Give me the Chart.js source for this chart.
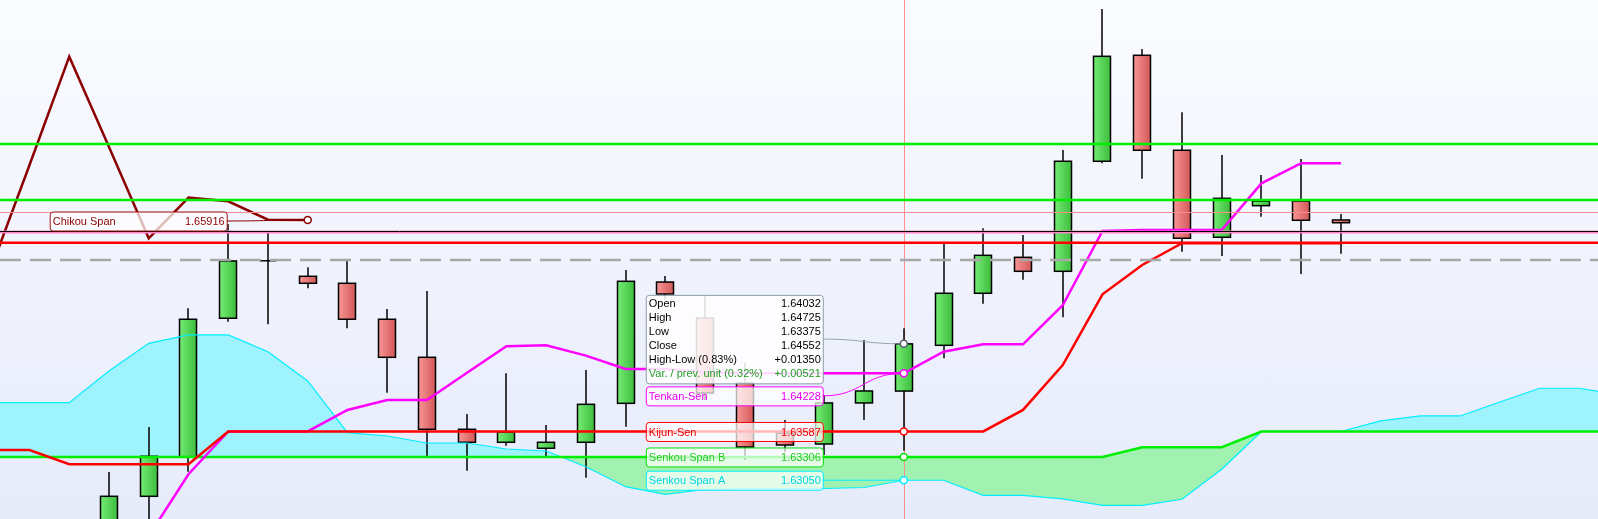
<!DOCTYPE html>
<html>
<head>
<meta charset="utf-8">
<script src="https://cdn.jsdelivr.net/npm/chart.js@4.4.1/dist/chart.umd.min.js"></script>
<style>
    html, body { margin: 0; padding: 0; background: #ffffff; }
    #wrap { width: 1598px; height: 519px; }
    canvas { display: block; background: linear-gradient(to bottom, #fbfcff 0%, #e6ebfb 100%); }
</style>
</head>
<body>
<div id="wrap"><canvas id="ichimoku" width="1598" height="519"></canvas></div>
<script>
// Candles, index 0..31
var opens  = [1.62450, 1.62873, 1.63309, 1.64834, 1.65468, 1.65296, 1.65219, 1.64823, 1.64404, 1.63611,
              1.63468, 1.63402, 1.63468, 1.63897, 1.65233, 1.64837, 1.64121, 1.63570, 1.63449, 1.63901,
              1.64032, 1.64536, 1.65109, 1.65505, 1.65351, 1.66563, 1.67730, 1.66684, 1.65726, 1.66074,
              1.66125, 1.65916];
var highs  = [1.63141, 1.63636, 1.64944, 1.65872, 1.65787, 1.65395, 1.65465, 1.64936, 1.65134, 1.63780,
              1.64228, 1.63659, 1.64264, 1.65366, 1.65299, 1.65090, 1.64341, 1.63714, 1.63989, 1.64595,
              1.64725, 1.65660, 1.65825, 1.65751, 1.66687, 1.68240, 1.67799, 1.67102, 1.66632, 1.66412,
              1.66588, 1.65982];
var lows   = [1.62170, 1.62447, 1.63144, 1.64796, 1.64768, 1.65164, 1.64723, 1.64014, 1.63309, 1.63155,
              1.63431, 1.63309, 1.63078, 1.63640, 1.65035, 1.63934, 1.63273, 1.63361, 1.63328, 1.63714,
              1.63375, 1.64393, 1.64994, 1.65259, 1.64845, 1.66541, 1.66371, 1.65567, 1.65520, 1.65953,
              1.65321, 1.65545];
var closes = [1.62873, 1.63314, 1.64823, 1.65465, 1.65468, 1.65219, 1.64823, 1.64404, 1.63611, 1.63468,
              1.63581, 1.63468, 1.63886, 1.65241, 1.65101, 1.64011, 1.63416, 1.63438, 1.63901, 1.64033,
              1.64552, 1.65109, 1.65527, 1.65351, 1.66563, 1.67719, 1.66684, 1.65715, 1.66155, 1.66125,
              1.65913, 1.65886];

// Ichimoku lines (first index of each series given separately)
var kijunStart = -3;
var kijun = [1.63383, 1.63383, 1.63226, 1.63226, 1.63226, 1.63226,
             1.63587, 1.63587, 1.63587, 1.63587, 1.63587, 1.63587, 1.63587, 1.63587, 1.63587, 1.63587,
             1.63587, 1.63587, 1.63587, 1.63587, 1.63587, 1.63587, 1.63587, 1.63587, 1.63587, 1.63587,
             1.63824, 1.64319, 1.65098, 1.65421, 1.65660, 1.65660, 1.65660, 1.65660, 1.65660];
var tenkanStart = 1;
var tenkan = [1.62436, 1.63116, 1.63587, 1.63587, 1.63587, 1.63824, 1.63934, 1.63934, 1.64231, 1.64525,
              1.64536, 1.64422, 1.64275, 1.64275, 1.64242, 1.64228, 1.64228, 1.64228, 1.64228, 1.64228,
              1.64466, 1.64547, 1.64547, 1.64977, 1.65795, 1.65806, 1.65806, 1.65806, 1.66320, 1.66541,
              1.66541];
var chikouStart = -3;
var chikou = [1.65344, 1.66522, 1.67715, 1.66720, 1.65715, 1.66162, 1.66122, 1.65920, 1.65916];
var senkouStart = -3;
var senkouB = [1.63306, 1.63306, 1.63306, 1.63306, 1.63306, 1.63306, 1.63306, 1.63306, 1.63306, 1.63306,
               1.63306, 1.63306, 1.63306, 1.63306, 1.63306, 1.63306, 1.63306, 1.63306, 1.63306, 1.63306,
               1.63306, 1.63306, 1.63306, 1.63306, 1.63306, 1.63306, 1.63306, 1.63306, 1.63306,
               1.63413, 1.63413, 1.63413,
               1.63587, 1.63587, 1.63587, 1.63587, 1.63587, 1.63587, 1.63587, 1.63587, 1.63587, 1.63587];
var senkouA = [1.63904, 1.63904, 1.63904, 1.64253, 1.64558, 1.64650, 1.64650, 1.64466, 1.64143, 1.63574,
               1.63537, 1.63460, 1.63460, 1.63394, 1.63372, 1.63199, 1.62979, 1.62895, 1.62948, 1.62954,
               1.62954, 1.62959, 1.62970, 1.63050, 1.63050, 1.62884, 1.62884, 1.62844, 1.62774, 1.62774,
               1.62840, 1.63171, 1.63587, 1.63587, 1.63587, 1.63703, 1.63758, 1.63758, 1.63912, 1.64063,
               1.64063, 1.63989];

// Horizontal price levels across the whole chart
var levelPrices = [1.66753, 1.66136, 1.66001, 1.65784, 1.65798, 1.65666, 1.65476];

// Crosshair / tooltip
var crossIndex = 20;
var tipLabels = ['Open', 'High', 'Low', 'Close', 'High-Low (0.83%)', 'Var. / prev. unit (0.32%)'];
var tipValues = ['1.64032', '1.64725', '1.63375', '1.64552', '+0.01350', '+0.00521'];

var X_MIN = -2.743, X_MAX = 37.469;
var Y_MIN = 1.62623, Y_MAX = 1.68339;

var FONT = '11px "Liberation Sans", Arial, sans-serif';
var levelStyles = [
    { color: '#00ee00', width: 2.5 },
    { color: '#00ee00', width: 2.5 },
    { color: '#ff8c8c', width: 1 },
    { color: '#ff86c6', width: 3 },
    { color: '#000000', width: 1 },
    { color: '#ff0000', width: 2.5 },
    { color: '#a8a8a8', width: 2.5, dash: [21, 9] }
];

function pts(start, values) {
    return values.map(function (v, k) { return { x: start + k, y: v }; });
}

function roundRect(ctx, x, y, w, h, r) {
    ctx.beginPath();
    ctx.moveTo(x + r, y);
    ctx.lineTo(x + w - r, y);
    ctx.quadraticCurveTo(x + w, y, x + w, y + r);
    ctx.lineTo(x + w, y + h - r);
    ctx.quadraticCurveTo(x + w, y + h, x + w - r, y + h);
    ctx.lineTo(x + r, y + h);
    ctx.quadraticCurveTo(x, y + h, x, y + h - r);
    ctx.lineTo(x, y + r);
    ctx.quadraticCurveTo(x, y, x + r, y);
    ctx.closePath();
}

function connector(ctx, x1, y1, x2, y2, color) {
    ctx.strokeStyle = color;
    ctx.lineWidth = 1;
    ctx.beginPath();
    ctx.moveTo(x1, y1);
    var mx = (x1 + x2) / 2;
    ctx.bezierCurveTo(mx, y1, mx, y2, x2, y2);
    ctx.stroke();
}

function dot(ctx, x, y, color) {
    ctx.beginPath();
    ctx.arc(x, y, 3.5, 0, Math.PI * 2);
    ctx.fillStyle = '#ffffff';
    ctx.fill();
    ctx.lineWidth = 1.5;
    ctx.strokeStyle = color;
    ctx.stroke();
}

function drawLabel(ctx, x, y, w, h, name, value, border, text) {
    roundRect(ctx, x + 0.5, y + 0.5, w, h, 3);
    ctx.fillStyle = 'rgba(255,255,255,0.72)';
    ctx.fill();
    ctx.strokeStyle = border;
    ctx.lineWidth = 1;
    ctx.stroke();
    ctx.fillStyle = text;
    ctx.textAlign = 'left';
    ctx.fillText(name, x + 3, y + h / 2 + 1);
    ctx.textAlign = 'right';
    ctx.fillText(value, x + w - 2, y + h / 2 + 1);
}

// crosshair + candles, drawn over the cloud fill but under the lines
var candlePlugin = {
    id: 'candles',
    beforeDatasetsDraw: function (chart) {
        var ctx = chart.ctx, xs = chart.scales.x, ys = chart.scales.y, a = chart.chartArea;
        ctx.save();
        ctx.beginPath();
        ctx.rect(a.left, a.top, a.right - a.left, a.bottom - a.top);
        ctx.clip();

        var cx = Math.round(xs.getPixelForValue(crossIndex)) + 0.5;
        ctx.strokeStyle = '#ff8f8f';
        ctx.lineWidth = 1;
        ctx.beginPath();
        ctx.moveTo(cx, a.top);
        ctx.lineTo(cx, a.bottom);
        ctx.stroke();

        var step = xs.getPixelForValue(1) - xs.getPixelForValue(0);
        var bw = Math.round(step * 0.43);
        for (var i = 0; i < opens.length; i++) {
            var xc = Math.round(xs.getPixelForValue(i));
            var yo = ys.getPixelForValue(opens[i]);
            var yc = ys.getPixelForValue(closes[i]);
            var yh = ys.getPixelForValue(highs[i]);
            var yl = ys.getPixelForValue(lows[i]);
            var up = closes[i] >= opens[i];

            ctx.strokeStyle = '#000000';
            ctx.lineWidth = 1.5;
            ctx.beginPath();
            ctx.moveTo(xc, yh);
            ctx.lineTo(xc, yl);
            ctx.stroke();

            var left = xc - bw / 2;
            var top = Math.min(yo, yc);
            var h = Math.abs(yo - yc);
            var g = ctx.createLinearGradient(left, 0, left + bw, 0);
            if (up) {
                g.addColorStop(0, '#74ec74');
                g.addColorStop(1, '#3dbd3d');
            } else {
                g.addColorStop(0, '#f99696');
                g.addColorStop(1, '#d25858');
            }
            ctx.fillStyle = g;
            ctx.fillRect(left, top, bw, h);
            ctx.strokeRect(left, top, bw, h);
        }
        ctx.restore();
    },
    afterDatasetsDraw: function (chart) {
        var ctx = chart.ctx, ys = chart.scales.y, a = chart.chartArea;
        ctx.save();
        for (var i = 0; i < levelPrices.length; i++) {
            var s = levelStyles[i];
            var y = ys.getPixelForValue(levelPrices[i]);
            if (s.width === 1) y = Math.round(y) + 0.5;
            ctx.strokeStyle = s.color;
            ctx.lineWidth = s.width;
            ctx.setLineDash(s.dash || []);
            ctx.beginPath();
            ctx.moveTo(a.left, y);
            ctx.lineTo(a.right, y);
            ctx.stroke();
        }
        ctx.restore();
    },
    afterDraw: function (chart) {
        var ctx = chart.ctx, xs = chart.scales.x, ys = chart.scales.y;
        var boxW = 177, gap = 81, lblH = 19;
        ctx.save();
        ctx.font = FONT;
        ctx.textBaseline = 'middle';

        // chikou label
        var chX = xs.getPixelForValue(chikouStart + chikou.length - 1);
        var chY = ys.getPixelForValue(chikou[chikou.length - 1]);
        drawLabel(ctx, chX - gap - boxW, chY - lblH / 2 + 1, boxW, lblH, 'Chikou Span',
            chikou[chikou.length - 1].toFixed(5), '#a01414', '#8b0000');
        connector(ctx, chX - gap, chY + 1, chX, chY, '#8b0000');
        dot(ctx, chX, chY, '#8b0000');

        // tooltip box
        var cx = xs.getPixelForValue(crossIndex);
        var closeY = ys.getPixelForValue(closes[crossIndex]);
        var bx = cx - gap - boxW;
        var by = closeY - 49;
        var bh = 88.5;
        roundRect(ctx, bx + 0.5, by + 0.5, boxW, bh, 3);
        ctx.fillStyle = 'rgba(255,255,255,0.86)';
        ctx.fill();
        ctx.strokeStyle = '#8b9ba6';
        ctx.lineWidth = 1;
        ctx.stroke();
        for (var r = 0; r < tipLabels.length; r++) {
            var ty = by + 9.5 + r * 14;
            ctx.fillStyle = r === tipLabels.length - 1 ? '#239b23' : '#000000';
            ctx.textAlign = 'left';
            ctx.fillText(tipLabels[r], bx + 3, ty);
            ctx.textAlign = 'right';
            ctx.fillText(tipValues[r], bx + boxW - 2, ty);
        }
        connector(ctx, bx + boxW, by + bh / 2, cx, closeY, '#93a3ab');

        // series labels at the crosshair
        var items = [
            { name: 'Tenkan-Sen', v: tenkan[crossIndex - tenkanStart], border: '#ff00ff', text: '#ee00ee' },
            { name: 'Kijun-Sen', v: kijun[crossIndex - kijunStart], border: '#ff0000', text: '#ee0000' },
            { name: 'Senkou Span B', v: senkouB[crossIndex - senkouStart], border: '#00e000', text: '#22cc22' },
            { name: 'Senkou Span A', v: senkouA[crossIndex - senkouStart], border: '#00eeff', text: '#00d4e6' }
        ];
        var prevBottom = by + bh;
        var placed = [];
        items.forEach(function (it) {
            var py = ys.getPixelForValue(it.v);
            var top = Math.max(py - lblH / 2, prevBottom + 3);
            drawLabel(ctx, bx, top, boxW, lblH, it.name, it.v.toFixed(5), it.border, it.text);
            connector(ctx, bx + boxW, top + lblH / 2, cx, py, it.border);
            prevBottom = top + lblH;
            placed.push({ y: py, c: it.border });
        });
        dot(ctx, cx, closeY, '#55606a');
        placed.forEach(function (p) { dot(ctx, cx, p.y, p.c); });
        ctx.restore();
    }
};

new Chart(document.getElementById('ichimoku'), {
    type: 'line',
    data: {
        datasets: [
            { label: 'Kijun-Sen', data: pts(kijunStart, kijun), borderColor: '#ff0000', borderWidth: 2.5, fill: false },
            { label: 'Tenkan-Sen', data: pts(tenkanStart, tenkan), borderColor: '#ff00ff', borderWidth: 2.5, fill: false },
            { label: 'Chikou Span', data: pts(chikouStart, chikou), borderColor: '#8b0000', borderWidth: 2.5, fill: false },
            { label: 'Senkou Span B', data: pts(senkouStart, senkouB), borderColor: '#00ee00', borderWidth: 2.5, fill: false },
            {
                label: 'Senkou Span A', data: pts(senkouStart, senkouA), borderColor: '#00eeff', borderWidth: 1.2,
                fill: { target: 3, above: '#9ff3fc', below: '#a1f2b1' }
            }
        ]
    },
    options: {
        responsive: false,
        animation: false,
        events: [],
        layout: { padding: 0 },
        elements: { point: { radius: 0 }, line: { tension: 0 } },
        scales: {
            x: { type: 'linear', min: X_MIN, max: X_MAX, display: false },
            y: { type: 'linear', min: Y_MIN, max: Y_MAX, display: false }
        },
        plugins: {
            legend: { display: false },
            tooltip: { enabled: false },
            filler: { drawTime: 'beforeDatasetsDraw' }
        }
    },
    plugins: [candlePlugin]
});
</script>
</body>
</html>
